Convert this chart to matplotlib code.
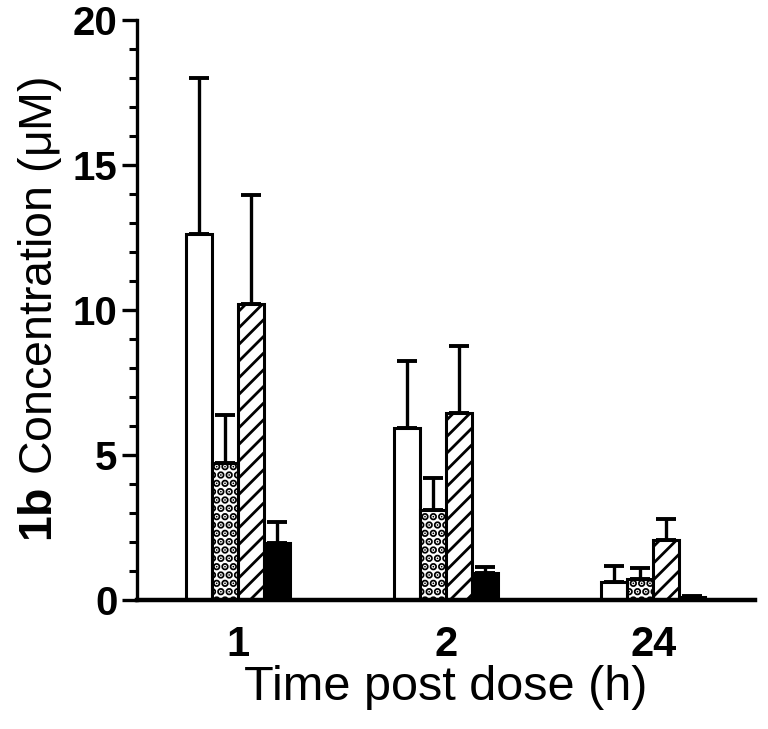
import matplotlib
matplotlib.use("Agg")
import matplotlib.pyplot as plt
import numpy as np
from matplotlib.ticker import MultipleLocator

plt.rcParams['font.family'] = ['Liberation Sans', 'DejaVu Sans']
plt.rcParams['mathtext.fontset'] = 'custom'
plt.rcParams['mathtext.rm'] = 'Liberation Sans'
plt.rcParams['mathtext.bf'] = 'Liberation Sans:bold'
plt.rcParams['mathtext.it'] = 'Liberation Sans:italic'

timepoints = ["1", "2", "24"]
white_vals = [12.6, 5.93, 0.62]
white_err = [5.4, 2.32, 0.55]
dotted_vals = [4.72, 3.1, 0.72]
dotted_err = [1.66, 1.1, 0.38]
hatched_vals = [10.2, 6.45, 2.07]
hatched_err = [3.75, 2.32, 0.72]
black_vals = [1.97, 0.93, 0.1]
black_err = [0.72, 0.22, 0.05]

series = [
    (white_vals, white_err, 'white', None, 1.0),
    (dotted_vals, dotted_err, 'white', '..', 4.0),
    (hatched_vals, hatched_err, 'white', '//', 2.0),
    (black_vals, black_err, 'black', None, 1.0),
]

fig = plt.figure(figsize=(7.68, 7.29), dpi=100)
ax = fig.add_axes([0.178, 0.177, 0.805, 0.796])

x = np.arange(len(timepoints))
w = 0.125
for i, (vals, errs, fc, hatch, hlw) in enumerate(series):
    pos = x + (i - 1.5) * w
    plt.rcParams['hatch.linewidth'] = hlw
    bars = ax.bar(pos, vals, width=w, color=fc, edgecolor='black', linewidth=2.2,
                  hatch=hatch, zorder=2)
    for b in bars:
        if hasattr(b, 'set_hatch_linewidth'):
            b.set_hatch_linewidth(hlw)
    ax.errorbar(pos, vals, yerr=[np.zeros(len(errs)), errs], fmt='none',
                ecolor='black', elinewidth=2.4, capsize=7, capthick=2.8, zorder=1)

ax.set_xlim(-0.49, 2.49)
ax.set_ylim(0, 20)
ax.set_xticks(x)
ax.set_xticklabels(timepoints)
ax.yaxis.set_major_locator(MultipleLocator(5))
ax.yaxis.set_minor_locator(MultipleLocator(1))
ax.tick_params(axis='x', length=0, pad=18, labelsize=30)
ax.tick_params(axis='y', which='major', length=11, width=2.4, labelsize=29, pad=3)
ax.tick_params(axis='y', which='minor', length=6, width=2.2)
for lbl in ax.get_xticklabels() + ax.get_yticklabels():
    lbl.set_fontweight('bold')

ax.spines['top'].set_visible(False)
ax.spines['right'].set_visible(False)
ax.spines['left'].set_linewidth(2.4)
ax.spines['bottom'].set_linewidth(3.2)

ax.set_xlabel("Time post dose (h)", fontsize=35, labelpad=0)
ax.set_ylabel(r"$\mathbf{1b}$ Concentration (μM)", fontsize=33.5, labelpad=6)

fig.savefig("out.png", dpi=100)
